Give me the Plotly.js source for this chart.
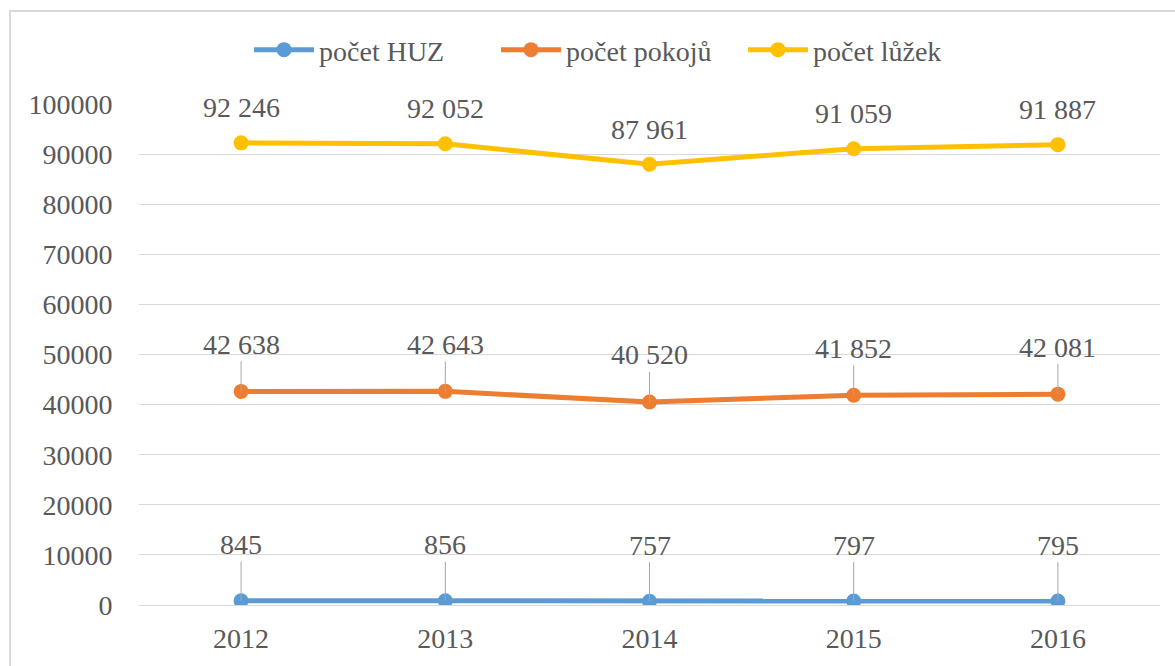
<!DOCTYPE html>
<html>
<head>
<meta charset="utf-8">
<script src="https://cdn.plot.ly/plotly-3.0.1.min.js"></script>
<style>
html,body{margin:0;padding:0;background:#fff;overflow:hidden;}
#wrap{position:absolute;left:9px;top:10px;width:1166px;height:656px;border-left:2px solid #d9d9d9;border-top:2px solid #d9d9d9;}
#chart{width:1164px;height:654px;}
</style>
</head>
<body>
<div id="wrap"><div id="chart"></div></div>
<script>
const years = [2012, 2013, 2014, 2015, 2016];
const seriesNames = ['počet HUZ','počet pokojů','počet lůžek'];
const huz = [845, 856, 757, 797, 795];
const pokoje = [42638, 42643, 40520, 41852, 42081];
const luzka = [92246, 92052, 87961, 91059, 91887];
const yTickVals = [0,10000,20000,30000,40000,50000,60000,70000,80000,90000,100000];

const colors = ['#5B9BD5','#ED7D31','#FFC000'];
const FONT = '"Liberation Serif", "Times New Roman", Times, "DejaVu Serif", serif';
const TXT = '#595959';

function fmt(v){ return String(v).replace(/\B(?=(\d{3})+(?!\d))/g,' '); }

const allSeries = [huz, pokoje, luzka];
const traces = allSeries.map((vals,i)=>({
  type:'scatter', mode:'lines+markers', x:years, y:vals, name:seriesNames[i],
  line:{color:colors[i], width:5},
  marker:{color:colors[i], size:15},
  hoverinfo:'x+y'
}));

const offsets = [-56, -47, -35];
const annotations = [];
allSeries.forEach((vals,i)=>{
  vals.forEach((v,j)=>{
    if(i===2){
      annotations.push({x:years[j], y:v, xref:'x', yref:'y', text:fmt(v), showarrow:false,
        yshift:-offsets[i], font:{family:FONT,size:28,color:TXT}});
    } else {
      annotations.push({x:years[j], y:v, xref:'x', yref:'y', text:fmt(v), showarrow:true,
        arrowhead:0, arrowwidth:1, arrowcolor:'#a6a6a6', ax:0, ay:offsets[i], standoff:0,
        font:{family:FONT,size:28,color:TXT}});
    }
  });
});

const layout = {
  width:1164, height:654,
  margin:{l:128, r:15, t:92, b:61},
  paper_bgcolor:'#fff', plot_bgcolor:'#fff',
  font:{family:FONT, size:28, color:TXT},
  showlegend:true,
  legend:{orientation:'h', xref:'container', x:0.2045, xanchor:'left', yref:'container', y:0.942, yanchor:'middle',
    font:{family:FONT,size:28,color:TXT}, traceorder:'normal', itemwidth:60, entrywidth:172, entrywidthmode:'pixels'},
  xaxis:{type:'linear', range:[2011.5, 2016.5], tickvals:years, ticktext:years.map(String),
    showgrid:false, zeroline:false, showline:false, ticks:'outside', ticklen:8, tickcolor:'rgba(0,0,0,0)',
    tickfont:{family:FONT,size:28,color:TXT}, fixedrange:true},
  yaxis:{range:[0,100000], tickvals:yTickVals, ticktext:yTickVals.map(String),
    showgrid:true, gridcolor:'#d9d9d9', gridwidth:1, zeroline:true, zerolinecolor:'#d9d9d9', zerolinewidth:1,
    showline:false, ticks:'outside', ticklen:20, tickcolor:'rgba(0,0,0,0)',
    tickfont:{family:FONT,size:28,color:TXT}, fixedrange:true},
  annotations:annotations
};
Plotly.newPlot('chart', traces, layout, {displayModeBar:false, staticPlot:true});
</script>
</body>
</html>
